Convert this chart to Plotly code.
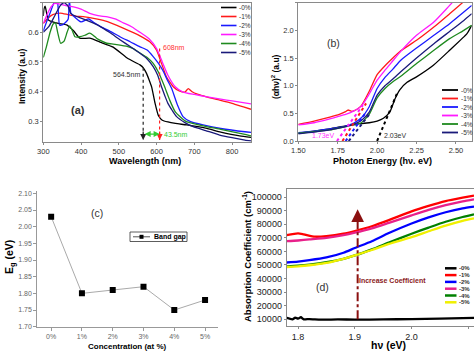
import plotly.graph_objects as go

W, H = 474, 353
FONT = "Arial, Liberation Sans, sans-serif"

# ---------------- panel (a) data ----------------
a_labels = ["0%", "1%", "2%", "3%", "4%", "5%"]
a_x0 = [300,302,305,313,325,340,362,380,397,423,450,485,520,545,556,565,573,580,587,596,605,615,630,650,680,730,770,820,850]
a_y0 = [0.655,0.68,0.688,0.642,0.635,0.63,0.625,0.605,0.58,0.58,0.567,0.55,0.515,0.497,0.49,0.48,0.462,0.44,0.415,0.36,0.318,0.303,0.297,0.292,0.287,0.276,0.263,0.25,0.245]
a_x1 = [300,310,325,345,365,385,410,440,470,510,540,556,582,600,613,626,644,660,675,684,693,710,732,767,800,830,850]
a_y1 = [0.63,0.645,0.66,0.665,0.66,0.655,0.652,0.645,0.636,0.615,0.598,0.588,0.568,0.54,0.495,0.45,0.416,0.402,0.398,0.41,0.40,0.39,0.382,0.371,0.36,0.348,0.34]
a_x2 = [300,310,318,325,333,338,343,350,360,366,369,373,380,400,420,435,450,475,503,530,556,575,591,605,617,628,640,655,670,690,723,770,834,850]
a_y2 = [0.605,0.64,0.665,0.69,0.71,0.70,0.625,0.625,0.635,0.645,0.71,0.665,0.655,0.635,0.645,0.632,0.62,0.605,0.585,0.568,0.551,0.54,0.518,0.495,0.47,0.44,0.41,0.355,0.315,0.298,0.287,0.275,0.264,0.262]
a_x3 = [300,310,320,330,345,360,380,400,423,445,470,490,512,535,556,580,600,615,630,650,670,700,730,770,800,850]
a_y3 = [0.63,0.66,0.685,0.698,0.695,0.69,0.686,0.678,0.664,0.656,0.652,0.645,0.632,0.618,0.6,0.578,0.545,0.5,0.455,0.415,0.398,0.39,0.383,0.374,0.368,0.358]
a_x4 = [300,308,318,326,332,338,346,355,363,370,377,384,397,410,423,432,441,455,468,485,503,520,538,556,575,591,605,620,635,650,679,720,770,834,850]
a_y4 = [0.515,0.55,0.6,0.628,0.632,0.6,0.563,0.57,0.6,0.622,0.605,0.585,0.585,0.59,0.597,0.59,0.58,0.57,0.563,0.56,0.557,0.553,0.545,0.53,0.515,0.495,0.465,0.42,0.37,0.33,0.298,0.285,0.272,0.255,0.25]
a_x5 = [300,315,330,345,355,365,372,385,400,425,450,475,503,530,556,575,591,603,613,622,630,642,653,675,697,730,767,800,834,850]
a_y5 = [0.60,0.62,0.655,0.69,0.70,0.69,0.665,0.655,0.648,0.635,0.62,0.6,0.575,0.552,0.529,0.51,0.484,0.455,0.416,0.385,0.36,0.335,0.315,0.295,0.281,0.268,0.253,0.244,0.236,0.233]
a_edges = [564.5, 608.0]   # absorption edges (nm)
a_edge_tops = [0.48, 0.545]

# ---------------- panel (b) data ----------------
b_E0 = [1.5,1.6,1.7,1.8,1.87,1.95,2.0,2.04,2.08,2.113,2.145,2.19,2.25,2.357,2.46,2.57,2.6]
b_v0 = [0.14,0.18,0.22,0.275,0.305,0.33,0.36,0.41,0.52,0.76,0.93,1.06,1.16,1.37,1.64,1.94,2.09]
b_E1 = [1.5,1.6,1.7,1.76,1.80,1.815,1.84,1.87,1.9,1.95,2.0,2.05,2.1,2.15,2.25,2.36,2.46,2.55,2.6]
b_v1 = [0.30,0.36,0.43,0.48,0.53,0.56,0.535,0.57,0.64,0.9,1.2,1.36,1.5,1.63,1.82,2.06,2.3,2.52,2.65]
b_E3 = [1.5,1.6,1.7,1.75,1.8,1.85,1.9,1.95,2.0,2.05,2.1,2.15,2.25,2.36,2.48,2.55]
b_v3 = [0.29,0.33,0.40,0.44,0.48,0.54,0.63,0.85,1.1,1.28,1.45,1.62,1.91,2.15,2.51,2.7]
b_E = [1.5,1.6,1.7,1.8,1.85,1.9,1.95,2.0,2.05,2.1,2.15,2.25,2.36,2.46,2.55,2.6]
b_v2 = [0.15,0.18,0.22,0.27,0.32,0.42,0.62,0.95,1.15,1.3,1.46,1.68,1.91,2.12,2.33,2.45]
b_v4 = [0.14,0.17,0.2,0.26,0.29,0.33,0.48,0.78,0.95,1.07,1.17,1.4,1.64,1.85,2.0,2.09]
b_v5 = [0.13,0.16,0.2,0.26,0.3,0.37,0.52,0.83,1.0,1.12,1.25,1.5,1.76,1.98,2.18,2.3]
# Tauc extrapolation lines (start/end energies and values)
b_fit_E = {"0%": [2.00, 2.125], "1%": [1.78, 1.93], "2%": [1.80, 1.93], "3%": [1.745, 1.91], "5%": [1.82, 1.95]}
b_fit_v = {"0%": [0.0, 0.85], "1%": [0.0, 0.68], "2%": [0.0, 0.52], "3%": [0.0, 0.65], "5%": [0.0, 0.48]}

# ---------------- panel (c) data ----------------
c_conc = ["0%", "1%", "2%", "3%", "4%", "5%"]
c_eg = [2.03, 1.80, 1.81, 1.82, 1.75, 1.78]

# ---------------- panel (d) data ----------------
d_x = [1.78,1.80,1.82,1.85,1.88,1.90,1.93,1.96,2.00,2.03,2.06,2.09,2.11]
d_x0 = [1.78,1.79,1.795,1.80,1.805,1.81,1.82,1.84,1.87,1.9,1.95,2.0,2.05,2.11]
d_y0 = [11000,10000,11200,10500,11500,10000,10200,9700,9900,9800,9900,10200,10500,11000]
d_x1 = [1.78,1.80,1.81,1.83,1.85,1.88,1.90,1.93,1.96,2.00,2.03,2.06,2.09,2.11]
d_y1 = [72000,73200,72500,70800,71200,73000,75000,78500,83000,89500,93500,97000,99500,101000]
d_y2 = [51800,52500,53500,55500,59000,62500,67500,73500,80500,85000,88800,91700,93000]
d_y3 = [67500,68000,68800,70000,72000,73800,77000,81000,86500,90500,94000,96800,98300]
d_y4 = [49000,49500,50300,52000,54500,57000,61500,66500,73000,77500,81800,85300,87300]
d_y5 = [48500,49000,49800,51500,54500,57000,61000,65500,70500,74800,79000,82500,84300]
d_arrow_x = 1.905
d_arrow_y = [10000, 88000]

colors_ab = ["#000000", "#ff1a1a", "#1a1aff", "#ff1aff", "#1f8a1f", "#1a1a7a"]
colors_d = ["#000000", "#ff0000", "#0000ff", "#e8208a", "#008000", "#f0f000"]


def px(x):
    return x / W


def py(y):
    return 1 - y / H


fig = go.Figure()

# panel (a)
for xs, ys, c in zip([a_x0, a_x1, a_x2, a_x3, a_x4, a_x5], [a_y0, a_y1, a_y2, a_y3, a_y4, a_y5], colors_ab):
    fig.add_trace(go.Scatter(x=xs, y=ys, mode="lines", line=dict(color=c, width=1.3, shape="spline", smoothing=0.5),
                             xaxis="x", yaxis="y", showlegend=False))
# panel (b)
for xs, ys, c in zip([b_E0, b_E1, b_E, b_E3, b_E, b_E], [b_v0, b_v1, b_v2, b_v3, b_v4, b_v5], colors_ab):
    fig.add_trace(go.Scatter(x=xs, y=ys, mode="lines", line=dict(color=c, width=1.3, shape="spline", smoothing=0.5),
                             xaxis="x2", yaxis="y2", showlegend=False))
fit_cols = {"0%": colors_ab[0], "1%": colors_ab[1], "2%": colors_ab[2], "3%": colors_ab[3], "5%": colors_ab[5]}
for k in b_fit_E:
    fig.add_trace(go.Scatter(x=b_fit_E[k], y=b_fit_v[k], mode="lines", line=dict(color=fit_cols[k], width=2, dash="dot"),
                             xaxis="x2", yaxis="y2", showlegend=False))
# panel (c)
fig.add_trace(go.Scatter(x=list(range(len(c_conc))), y=c_eg, mode="lines+markers",
                         line=dict(color="#aaaaaa", width=1), marker=dict(symbol="square", size=6, color="black"),
                         xaxis="x3", yaxis="y3", showlegend=False))
# panel (d)
for xs, ys, c in zip([d_x0, d_x1, d_x, d_x, d_x, d_x], [d_y0, d_y1, d_y2, d_y3, d_y4, d_y5], colors_d):
    fig.add_trace(go.Scatter(x=xs, y=ys, mode="lines", line=dict(color=c, width=2.3, shape="spline", smoothing=0.6),
                             xaxis="x4", yaxis="y4", showlegend=False))
fig.add_trace(go.Scatter(x=[d_arrow_x, d_arrow_x], y=d_arrow_y, mode="lines",
                         line=dict(color="#8b1010", width=2, dash="dashdot"), xaxis="x4", yaxis="y4", showlegend=False))
# panel (a) edge lines
edge_cols = ["#222222", "#ff2020"]
for e, t, c in zip(a_edges, a_edge_tops, edge_cols):
    fig.add_trace(go.Scatter(x=[e, e], y=[t, 0.236], mode="lines", line=dict(color=c, width=1.2, dash="dot"),
                             xaxis="x", yaxis="y", showlegend=False))

tickf = dict(family=FONT, size=7.5, color="#333")
frame = dict(showline=True, linecolor="#8a8a8a", linewidth=1, mirror=True, ticks="outside", ticklen=2,
             tickcolor="#8a8a8a", showgrid=False, zeroline=False, automargin=False)

layout = dict(
    width=W, height=H, margin=dict(l=0, r=0, t=0, b=0), paper_bgcolor="white", plot_bgcolor="white",
    font=dict(family=FONT),
    xaxis=dict(domain=[px(43.3), px(251)], range=[300, 850], tickvals=[300, 400, 500, 600, 700, 800],
               tickfont=tickf, anchor="y", **frame),
    yaxis=dict(domain=[py(141.7), py(2.7)], range=[0.2304, 0.7], tickvals=[0.3, 0.4, 0.5, 0.6, 0.7],
               tickformat=".1f", tickfont=tickf, anchor="x", **frame),
    xaxis2=dict(domain=[px(298.3), px(471.7)], range=[1.5, 2.6], tickvals=[1.5, 1.75, 2.0, 2.25, 2.5],
                tickformat=".2f", tickfont=tickf, anchor="y2", **frame),
    yaxis2=dict(domain=[py(141), py(2.7)], range=[0, 2.5], tickvals=[0, 0.5, 1.0, 1.5, 2.0, 2.5],
                tickformat=".1f", tickfont=tickf, anchor="x2", **frame),
    xaxis3=dict(domain=[px(37.3), px(218.3)], range=[-0.45, 5.43], tickvals=list(range(6)), ticktext=c_conc,
                tickfont=dict(family=FONT, size=7, color="#666"), anchor="y3", showline=True, linecolor="#999",
                ticks="outside", ticklen=3, tickcolor="#999", showgrid=False, zeroline=False, automargin=False),
    yaxis3=dict(domain=[py(326.7), py(191)], range=[1.70, 2.107], tickvals=[1.70, 1.75, 1.80, 1.85, 1.90, 1.95, 2.00, 2.05, 2.10],
                tickformat=".2f", tickfont=dict(family=FONT, size=7, color="#666"), anchor="x3", showline=True,
                linecolor="#999", ticks="outside", ticklen=3, tickcolor="#999", showgrid=False, zeroline=False,
                automargin=False),
    xaxis4=dict(domain=[px(286.7), 1.0], range=[1.78, 2.11], tickvals=[1.8, 1.9, 2.0, 2.1], tickformat=".1f",
                tickfont=dict(family=FONT, size=9, color="#222"), anchor="y4", **frame),
    yaxis4=dict(domain=[py(326), py(189.3)], range=[5070, 105700], tickvals=list(range(10000, 100001, 10000)),
                tickformat="d", tickfont=dict(family=FONT, size=9, color="#222"), anchor="x4", **frame),
)
fig.update_layout(**layout)

ann = []
shapes = []


def text(x, y, s, size, color="black", bold=False, angle=0, xanchor="center"):
    if bold:
        s = "<b>" + s + "</b>"
    ann.append(dict(x=px(x), y=py(y), xref="paper", yref="paper", text=s, showarrow=False, textangle=angle,
                    xanchor=xanchor, yanchor="middle", font=dict(family=FONT, size=size, color=color)))


# axis titles
text(145, 161, "Wavelength (nm)", 9, bold=True)
text(22, 77, "Intensity (a.u)", 8.5, bold=True, angle=-90)
text(382, 161, "Photon Energy (hν. eV)", 9, bold=True)
text(276, 77, "(αhν)<sup>2</sup> (a.u)", 8.5, bold=True, angle=-90)
text(128, 346.5, "Concentration (at %)", 8, bold=True)
text(10, 257, "E<sub>g</sub> (eV)", 10.5, bold=True, angle=-90)
text(388, 345, "hν (eV)", 10.5, bold=True)
text(247, 256, "Absorption Coefficient (cm<sup>-1</sup>)", 9.5, bold=True, angle=-90)

# panel labels
text(78, 110, "(a)", 11, bold=True, color="#333")
text(333, 43, "(b)", 10.5, color="#333")
text(97, 213, "(c)", 10.5, color="#333")
text(322, 287, "(d)", 10.5, color="#333")

# panel (a) annotations
text(142, 74, "564.5nm", 7, color="#333", xanchor="right")
text(161, 47, "608nm", 7, color="#ff3030", xanchor="left")
text(162, 134, "43.5nm", 7, color="#33cc33", xanchor="left")
# arrow heads for the edge lines
for e, c in zip(a_edges, edge_cols):
    ann.append(dict(x=e, y=0.236, ax=e, ay=0.27, xref="x", yref="y", axref="x", ayref="y", text="",
                    showarrow=True, arrowhead=2, arrowsize=1, arrowwidth=1.2, arrowcolor=c))
ann.append(dict(x=a_edges[1], y=0.256, ax=a_edges[0], ay=0.256, xref="x", yref="y", axref="x", ayref="y", text="",
                showarrow=True, arrowhead=2, arrowside="end+start", arrowsize=1, arrowwidth=1.2, arrowcolor="#33cc33"))

# panel (b) annotations
text(337, 136, "1.73eV", 7, color="#ff33ff", xanchor="right")
text(382, 135, "2.03eV", 7, color="#333", xanchor="left")

# panel (d) annotations
ann.append(dict(x=d_arrow_x, y=d_arrow_y[1] + 3000, ax=d_arrow_x, ay=d_arrow_y[1] - 6000, xref="x4", yref="y4",
                axref="x4", ayref="y4", text="", showarrow=True, arrowhead=2, arrowsize=1.1, arrowwidth=2.3,
                arrowcolor="#8b1010"))
text(357, 280, "Increase Coefficient", 7, color="#8b1a1a", bold=True, xanchor="left")


def legend(x0, x1, y0, step, cols, lw, size, bold=False):
    for i, (lab, c) in enumerate(zip(a_labels, cols)):
        y = y0 + i * step
        shapes.append(dict(type="line", xref="paper", yref="paper", x0=px(x0), x1=px(x1), y0=py(y), y1=py(y),
                           line=dict(color=c, width=lw)))
        text(x1 + 0.5, y, "-" + lab, size, color="#333", bold=bold, xanchor="left")


legend(221, 236.5, 7.5, 9.0, colors_ab, 1.6, 6.5)
legend(442, 458, 90, 8.5, colors_ab, 1.8, 6.5)
legend(445, 456.5, 268.3, 6.8, colors_d, 2.5, 6, bold=True)

# panel (c) legend box
shapes.append(dict(type="rect", xref="paper", yref="paper", x0=px(130), x1=px(187), y0=py(241.5), y1=py(232),
                   line=dict(color="#333", width=0.8), fillcolor="white"))
shapes.append(dict(type="line", xref="paper", yref="paper", x0=px(133), x1=px(150), y0=py(236.8), y1=py(236.8),
                   line=dict(color="#555", width=1)))
shapes.append(dict(type="rect", xref="paper", yref="paper", x0=px(139.5), x1=px(143.5), y0=py(238.8), y1=py(234.8),
                   line=dict(color="black", width=0), fillcolor="black"))
text(152, 236.8, "Band gap", 7, bold=True, xanchor="left")

fig.update_layout(annotations=ann, shapes=shapes)
fig.write_html("out.html")
